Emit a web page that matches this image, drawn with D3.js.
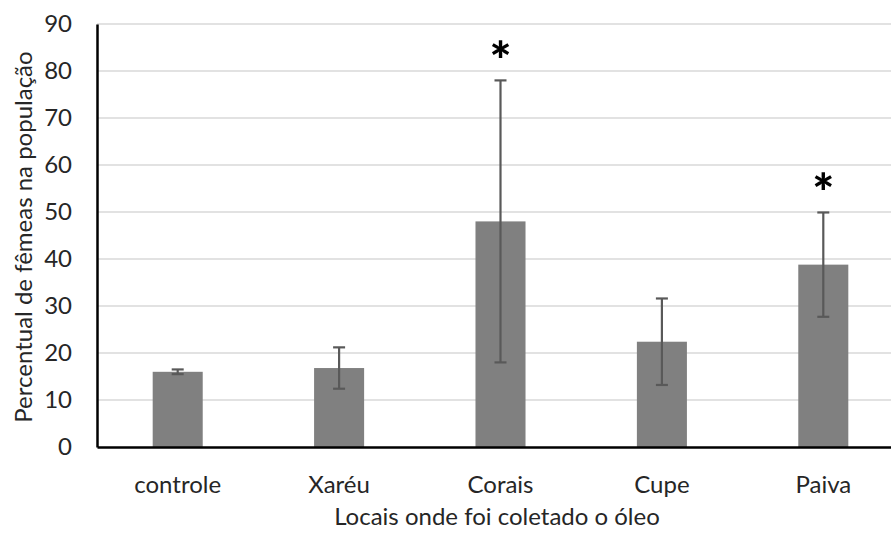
<!DOCTYPE html>
<html>
<head>
<meta charset="utf-8">
<script src="https://cdn.jsdelivr.net/npm/d3@7"></script>
<style>
  body { margin: 0; background: #fff; overflow: hidden; }
  text { font-family: Lato, "Open Sans", sans-serif; fill: #262626; }
</style>
</head>
<body>
<div id="chart"></div>
<script>
// data
var locais = ["controle", "Xaréu", "Corais", "Cupe", "Paiva"];
var femeas = [16.0, 16.8, 48.0, 22.4, 38.8];
var erro = [0.5, 4.4, 30.0, 9.2, 11.1];
var significativo = ["Corais", "Paiva"];
var yTicks = [0, 10, 20, 30, 40, 50, 60, 70, 80, 90];

var svgWidth = 891;
var svgHeight = 533;

var margin = { top: 24, left: 97, bottom: 86, right: -13 };
var width = svgWidth - margin.left - margin.right;
var height = svgHeight - margin.top - margin.bottom;

var svg = d3.select("#chart")
    .append("svg")
    .attr("width", svgWidth)
    .attr("height", svgHeight)
    .style("display", "block");

var chartGroup = svg.append("g")
    .attr("transform", `translate(${margin.left}, ${margin.top})`);

var xScale = d3.scaleBand()
    .domain(locais)
    .range([0, width])
    .paddingInner(0.69)
    .paddingOuter(0.345);

var yScale = d3.scaleLinear()
    .domain([0, 90])
    .range([height, 0]);

// gridlines
chartGroup.selectAll(".grid")
    .data(yTicks.slice(1))
    .enter()
    .append("line")
    .attr("x1", 0)
    .attr("x2", width)
    .attr("y1", d => yScale(d))
    .attr("y2", d => yScale(d))
    .attr("stroke", "#d9d9d9")
    .attr("stroke-width", 1.5);

var data = locais.map((l, i) => ({ local: l, valor: femeas[i], erro: erro[i] }));

// bars
chartGroup.selectAll(".bar")
    .data(data)
    .enter()
    .append("rect")
    .attr("x", d => xScale(d.local))
    .attr("width", xScale.bandwidth())
    .attr("y", d => yScale(d.valor))
    .attr("height", d => height - yScale(d.valor))
    .attr("fill", "#808080");

// error bars
var cap = 6;
var eb = chartGroup.selectAll(".err")
    .data(data)
    .enter()
    .append("g")
    .attr("stroke", "#595959")
    .attr("stroke-width", 2.2);

eb.append("line")
    .attr("x1", d => xScale(d.local) + xScale.bandwidth() / 2)
    .attr("x2", d => xScale(d.local) + xScale.bandwidth() / 2)
    .attr("y1", d => yScale(d.valor - d.erro))
    .attr("y2", d => yScale(d.valor + d.erro));

eb.append("line")
    .attr("x1", d => xScale(d.local) + xScale.bandwidth() / 2 - cap)
    .attr("x2", d => xScale(d.local) + xScale.bandwidth() / 2 + cap)
    .attr("y1", d => yScale(d.valor + d.erro))
    .attr("y2", d => yScale(d.valor + d.erro));

eb.append("line")
    .attr("x1", d => xScale(d.local) + xScale.bandwidth() / 2 - cap)
    .attr("x2", d => xScale(d.local) + xScale.bandwidth() / 2 + cap)
    .attr("y1", d => yScale(d.valor - d.erro))
    .attr("y2", d => yScale(d.valor - d.erro));

// asterisks
chartGroup.selectAll(".star")
    .data(data.filter(d => significativo.includes(d.local)))
    .enter()
    .append("text")
    .attr("x", d => xScale(d.local) + xScale.bandwidth() / 2)
    .attr("y", d => yScale(d.valor + d.erro) - 1)
    .attr("text-anchor", "middle")
    .style("font-size", "52px")
    .style("font-weight", "900")
    .style("fill", "#000")
    .text("*");

// axes
var bottomAxis = d3.axisBottom(xScale).tickSize(0).tickPadding(29);
var leftAxis = d3.axisLeft(yScale).tickValues(yTicks).tickSize(0).tickPadding(25);

var xAxisG = chartGroup.append("g")
    .attr("transform", `translate(0, ${height})`)
    .call(bottomAxis);
xAxisG.select(".domain").attr("stroke", "#000").attr("stroke-width", 2.5);
xAxisG.selectAll("text").style("font-size", "24px").attr("dy", "0.71em");

var yAxisG = chartGroup.append("g")
    .call(leftAxis);
yAxisG.select(".domain").attr("stroke", "#000").attr("stroke-width", 2.5);
yAxisG.selectAll("text").style("font-size", "24px");

// axis titles
svg.append("text")
    .attr("transform", "rotate(-90)")
    .attr("x", -237)
    .attr("y", 24)
    .attr("dy", "0.35em")
    .attr("text-anchor", "middle")
    .style("font-size", "24px")
    .text("Percentual de fêmeas na população");

svg.append("text")
    .attr("x", 497)
    .attr("y", 518)
    .attr("dy", "0.3em")
    .attr("text-anchor", "middle")
    .style("font-size", "24px")
    .text("Locais onde foi coletado o óleo");
</script>
</body>
</html>
